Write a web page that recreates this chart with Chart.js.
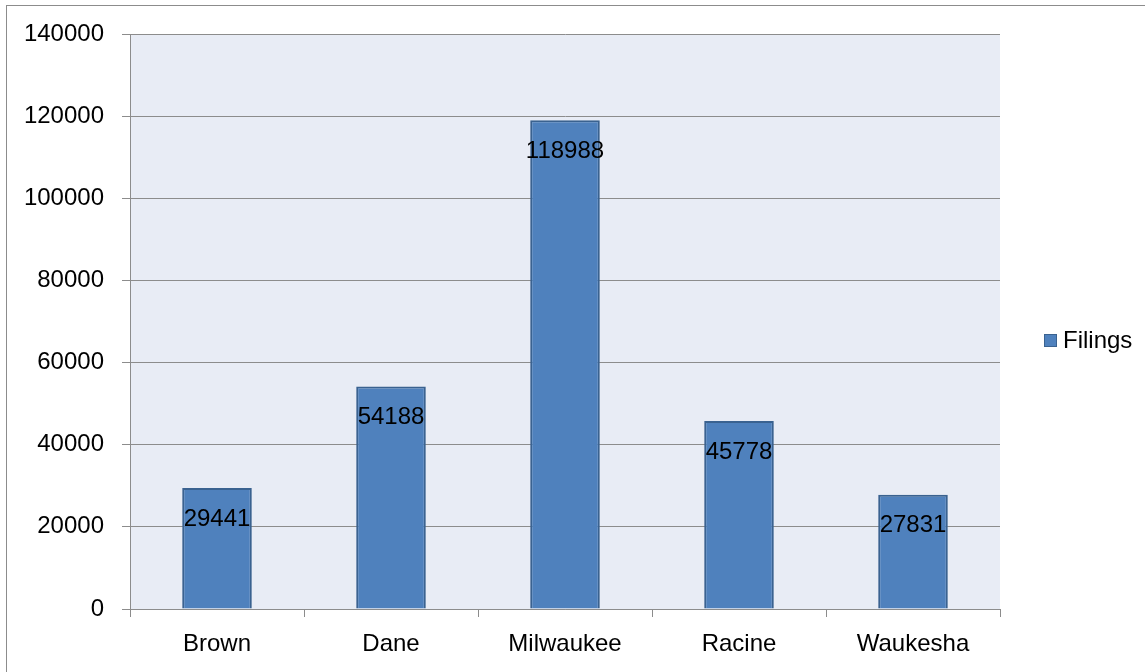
<!DOCTYPE html>
<html>
<head>
<meta charset="utf-8">
<script src="https://cdn.jsdelivr.net/npm/chart.js@4"></script>
<style>
  html, body { margin: 0; padding: 0; background: #fff; }
  #wrap { position: relative; width: 1145px; height: 672px; overflow: hidden; }
  #frame { position: absolute; left: 6px; top: 5px; width: 1200px; height: 700px;
           border: 1px solid #8c8c8c; box-sizing: border-box; }
  canvas { position: absolute; left: 0; top: 0; }
</style>
</head>
<body>
<div id="wrap">
  <div id="frame"></div>
  <canvas id="c" width="1145" height="672"></canvas>
</div>
<script>
// ── Data ────────────────────────────────────────────────────
const counties = ['Brown', 'Dane', 'Milwaukee', 'Racine', 'Waukesha'];
const filings  = [29441, 54188, 118988, 45778, 27831];
const yTicks   = [0, 20000, 40000, 60000, 80000, 100000, 120000, 140000];

const FONT = "'Liberation Sans', Arial, sans-serif";
const GRID = '#8c8c8c';
const FS   = 24;

// plot background
const plotBg = {
  id: 'plotBg',
  beforeDraw(chart) {
    const { ctx, chartArea: a } = chart;
    ctx.save();
    ctx.fillStyle = '#e8ecf5';
    ctx.fillRect(a.left, a.top, a.right - a.left, a.bottom - a.top);
    ctx.restore();
  }
};

// value labels inside bar tops + legend at right
const labelsAndLegend = {
  id: 'labelsAndLegend',
  afterDatasetsDraw(chart) {
    const { ctx } = chart;
    const ds   = chart.data.datasets[0];
    const meta = chart.getDatasetMeta(0);
    ctx.save();
    ctx.font = FS + 'px ' + FONT;
    ctx.fillStyle = '#000';
    ctx.textAlign = 'center';
    ctx.textBaseline = 'middle';
    meta.data.forEach((bar, i) => {
      ctx.fillText(String(ds.data[i]), bar.x, bar.y + 31);
    });

    // legend
    const lx = 1044, ly = 341;
    ctx.fillStyle = ds.backgroundColor;
    ctx.strokeStyle = ds.borderColor;
    ctx.lineWidth = 1;
    ctx.fillRect(lx, ly - 7, 13, 13);
    ctx.strokeRect(lx + 0.5, ly - 6.5, 12, 12);
    ctx.fillStyle = '#000';
    ctx.textAlign = 'left';
    ctx.fillText(ds.label, lx + 19, ly);
    ctx.restore();
  }
};

new Chart(document.getElementById('c'), {
  type: 'bar',
  data: {
    labels: counties,
    datasets: [{
      label: 'Filings',
      data: filings,
      backgroundColor: '#4f81bd',
      borderColor: '#3a6290',
      borderWidth: 2,
      categoryPercentage: 1,
      barPercentage: 0.4
    }]
  },
  options: {
    responsive: false,
    animation: false,
    layout: { padding: { top: 34, right: 145, left: 0, bottom: 0 } },
    plugins: { legend: { display: false }, tooltip: { enabled: false } },
    scales: {
      x: {
        offset: true,
        grid: { offset: true, drawOnChartArea: false, drawTicks: true, tickLength: 8, color: GRID },
        border: { color: GRID, width: 1 },
        ticks: { color: '#000', font: { family: FONT, size: FS }, padding: 13 },
        afterFit(s) { s.height = 63; }
      },
      y: {
        min: 0, max: 140000,
        afterBuildTicks(s) { s.ticks = yTicks.map(v => ({ value: v })); },
        grid: { color: GRID, tickLength: 8 },
        border: { color: GRID, width: 1 },
        ticks: { color: '#000', font: { family: FONT, size: FS }, padding: 18,
                 callback: v => String(v) },
        afterFit(s) { s.width = 130; }
      }
    }
  },
  plugins: [plotBg, labelsAndLegend]
});
</script>
</body>
</html>
